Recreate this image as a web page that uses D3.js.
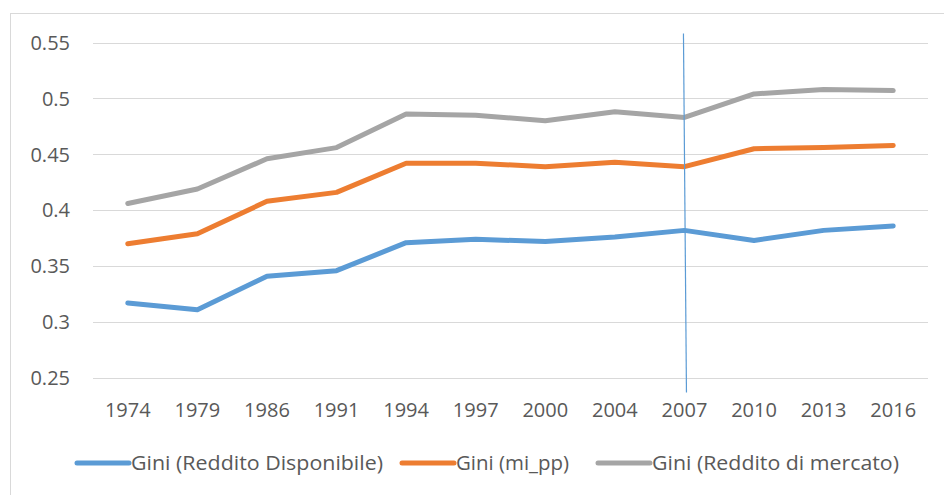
<!DOCTYPE html>
<html>
<head>
<meta charset="utf-8">
<title>Gini</title>
<script src="https://cdn.jsdelivr.net/npm/d3@7"></script>
<style>
  body { margin: 0; background: #fff; }
  text { font-family: "Open Sans", sans-serif; fill: #595959; }
</style>
</head>
<body>
<svg width="944" height="495"></svg>
<script>
// dati
var anni = ["1974","1979","1986","1991","1994","1997","2000","2004","2007","2010","2013","2016"];
var giniDisponibile = [0.317,0.311,0.341,0.346,0.371,0.374,0.372,0.376,0.382,0.373,0.382,0.386];
var giniMiPP = [0.370,0.379,0.408,0.416,0.442,0.442,0.439,0.443,0.439,0.455,0.456,0.458];
var giniMercato = [0.406,0.419,0.446,0.456,0.486,0.485,0.480,0.488,0.483,0.504,0.508,0.507];
var yTicks = [0.25,0.3,0.35,0.4,0.45,0.5,0.55];
var yTickLabels = ["0.25","0.3","0.35","0.4","0.45","0.5","0.55"];
var annoLinea = "2007";

var series = [
  {name: "Gini (Reddito Disponibile)", values: giniDisponibile, color: "#5B9BD5"},
  {name: "Gini (mi_pp)", values: giniMiPP, color: "#ED7D31"},
  {name: "Gini (Reddito di mercato)", values: giniMercato, color: "#A5A5A5"}
];

var svg = d3.select("svg");

// bordo esterno
svg.append("rect")
  .attr("x", 10.5).attr("y", 13.5)
  .attr("width", 1000).attr("height", 600)
  .attr("fill", "none").attr("stroke", "#D9D9D9");

var x = d3.scaleBand().domain(anni).range([93, 928]);
var y = d3.scaleLinear().domain([0.25, 0.55]).range([378, 42.5]);

// griglia
svg.selectAll(".grid").data(yTicks).enter().append("line")
  .attr("x1", 93).attr("x2", 928)
  .attr("y1", function(d){ return Math.round(y(d)) + 0.5; })
  .attr("y2", function(d){ return Math.round(y(d)) + 0.5; })
  .attr("stroke", "#D9D9D9").attr("stroke-width", 1.2);

// etichette asse y
svg.selectAll(".ylab").data(yTicks).enter().append("text")
  .attr("x", 70)
  .attr("y", function(d){ return y(d); })
  .attr("dy", "0.36em")
  .attr("text-anchor", "end")
  .style("font-size", "20px")
  .text(function(d, i){ return yTickLabels[i]; });

// etichette asse x
svg.selectAll(".xlab").data(anni).enter().append("text")
  .attr("x", function(d){ return x(d) + x.bandwidth()/2; })
  .attr("y", 410)
  .attr("dy", "0.36em")
  .attr("text-anchor", "middle")
  .style("font-size", "20px")
  .text(function(d){ return d; });

// linee
var line = d3.line()
  .x(function(d, i){ return x(anni[i]) + x.bandwidth()/2; })
  .y(function(d){ return y(d); });

svg.selectAll(".serie").data(series).enter().append("path")
  .attr("d", function(d){ return line(d.values); })
  .attr("fill", "none")
  .attr("stroke", function(d){ return d.color; })
  .attr("stroke-width", 5)
  .attr("stroke-linecap", "round")
  .attr("stroke-linejoin", "round");

// linea verticale 2007
var xl = x(annoLinea) + x.bandwidth()/2;
svg.append("line")
  .attr("x1", xl - 1).attr("x2", xl + 2)
  .attr("y1", y(0.558)).attr("y2", y(0.237))
  .attr("stroke", "#5B9BD5").attr("stroke-width", 1.2);

// legenda
var legX = [75, 400, 596];
var legW = [252, 113, 247];
var leg = svg.selectAll(".leg").data(series).enter().append("g")
  .attr("transform", function(d, i){ return "translate(" + legX[i] + ",463)"; });
leg.append("line")
  .attr("x1", 2).attr("x2", 54)
  .attr("stroke", function(d){ return d.color; })
  .attr("stroke-width", 5)
  .attr("stroke-linecap", "round");
leg.append("text")
  .attr("x", 56)
  .attr("dy", "0.36em")
  .style("font-size", "20px")
  .text(function(d){ return d.name; })
  .each(function(d, i){
    var w = this.getComputedTextLength();
    if (Math.abs(w - legW[i]) > 2) {
      d3.select(this).attr("textLength", legW[i]).attr("lengthAdjust", "spacingAndGlyphs");
    }
  });
</script>
</body>
</html>
